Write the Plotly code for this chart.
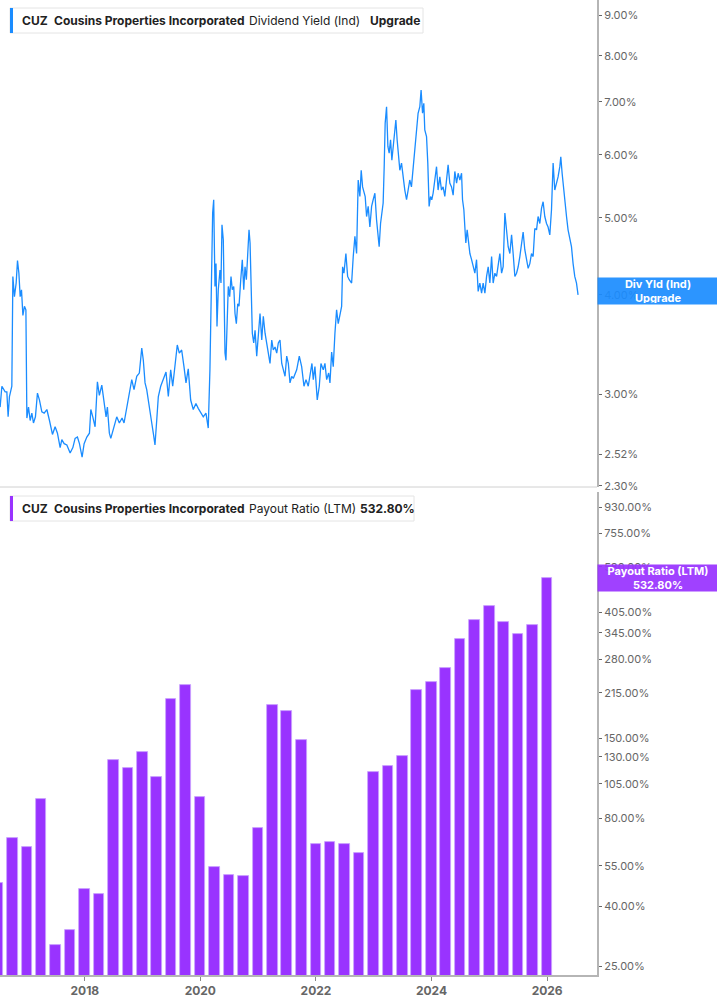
import math
from datetime import datetime
import plotly.graph_objects as go

# ---------------- data ----------------
# Dividend yield (Ind), % — time as decimal years
YIELD_T = [
    2016.535, 2016.565, 2016.622, 2016.651, 2016.673, 2016.696, 2016.737, 2016.755, 2016.782, 2016.812,
    2016.835, 2016.859, 2016.881, 2016.904, 2016.928, 2016.955, 2016.980, 2016.997, 2017.025, 2017.054,
    2017.083, 2017.111, 2017.145, 2017.180, 2017.215, 2017.256, 2017.296, 2017.343, 2017.388, 2017.440,
    2017.486, 2017.526, 2017.573, 2017.602, 2017.642, 2017.689, 2017.746, 2017.793, 2017.832, 2017.872,
    2017.907, 2017.953, 2017.988, 2018.035, 2018.080, 2018.104, 2018.138, 2018.178, 2018.218, 2018.252,
    2018.294, 2018.334, 2018.368, 2018.391, 2018.425, 2018.450, 2018.494, 2018.553, 2018.598, 2018.645,
    2018.679, 2018.726, 2018.771, 2018.813, 2018.852, 2018.899, 2018.944, 2018.986, 2019.013, 2019.043,
    2019.072, 2019.117, 2019.159, 2019.186, 2019.215, 2019.245, 2019.273, 2019.314, 2019.359, 2019.406,
    2019.446, 2019.487, 2019.522, 2019.561, 2019.601, 2019.636, 2019.677, 2019.717, 2019.752, 2019.791,
    2019.833, 2019.878, 2019.924, 2019.964, 2020.006, 2020.051, 2020.097, 2020.137, 2020.166, 2020.196,
    2020.213, 2020.231, 2020.253, 2020.271, 2020.288, 2020.310, 2020.340, 2020.357, 2020.374, 2020.397,
    2020.409, 2020.426, 2020.443, 2020.461, 2020.483, 2020.507, 2020.530, 2020.552, 2020.577, 2020.599,
    2020.622, 2020.646, 2020.668, 2020.698, 2020.725, 2020.750, 2020.772, 2020.795, 2020.819, 2020.841,
    2020.859, 2020.876, 2020.898, 2020.922, 2020.945, 2020.974, 2021.002, 2021.031, 2021.061, 2021.088,
    2021.118, 2021.147, 2021.175, 2021.204, 2021.234, 2021.261, 2021.291, 2021.320, 2021.348, 2021.377,
    2021.407, 2021.434, 2021.464, 2021.493, 2021.521, 2021.550, 2021.580, 2021.607, 2021.666, 2021.711,
    2021.752, 2021.792, 2021.827, 2021.866, 2021.896, 2021.930, 2021.953, 2021.982, 2022.022, 2022.057,
    2022.086, 2022.126, 2022.155, 2022.185, 2022.219, 2022.242, 2022.271, 2022.299, 2022.328, 2022.357,
    2022.385, 2022.415, 2022.444, 2022.461, 2022.484, 2022.518, 2022.548, 2022.575, 2022.617, 2022.645,
    2022.674, 2022.703, 2022.731, 2022.760, 2022.783, 2022.807, 2022.829, 2022.852, 2022.876, 2022.904,
    2022.933, 2022.963, 2022.990, 2023.020, 2023.049, 2023.077, 2023.094, 2023.118, 2023.141, 2023.163,
    2023.181, 2023.198, 2023.222, 2023.245, 2023.267, 2023.291, 2023.314, 2023.336, 2023.365, 2023.383,
    2023.405, 2023.430, 2023.452, 2023.481, 2023.509, 2023.538, 2023.568, 2023.594, 2023.624, 2023.653,
    2023.682, 2023.711, 2023.741, 2023.768, 2023.798, 2023.820, 2023.845, 2023.867, 2023.884, 2023.914,
    2023.936, 2023.959, 2023.983, 2024.005, 2024.028, 2024.052, 2024.087, 2024.114, 2024.144, 2024.173,
    2024.201, 2024.230, 2024.260, 2024.287, 2024.316, 2024.346, 2024.374, 2024.403, 2024.433, 2024.460,
    2024.490, 2024.519, 2024.536, 2024.559, 2024.576, 2024.593, 2024.616, 2024.633, 2024.663, 2024.692,
    2024.720, 2024.749, 2024.778, 2024.806, 2024.835, 2024.865, 2024.892, 2024.922, 2024.951, 2024.979,
    2025.008, 2025.038, 2025.065, 2025.095, 2025.124, 2025.152, 2025.181, 2025.211, 2025.238, 2025.268,
    2025.297, 2025.325, 2025.354, 2025.384, 2025.411, 2025.441, 2025.470, 2025.498, 2025.527, 2025.557,
    2025.584, 2025.613, 2025.643, 2025.671, 2025.700, 2025.729, 2025.757, 2025.786, 2025.816, 2025.843,
    2025.873, 2025.902, 2025.930, 2025.959, 2025.989, 2026.016, 2026.046, 2026.075, 2026.103, 2026.132,
    2026.162, 2026.189, 2026.219, 2026.236, 2026.259, 2026.288, 2026.305, 2026.335, 2026.362, 2026.392,
    2026.421, 2026.449, 2026.478, 2026.508, 2026.535,
]
YIELD_V = [
    2.89, 3.07, 3.02, 3.02, 2.81, 2.98, 3.07, 4.22, 3.98, 4.14,
    4.42, 4.26, 3.98, 4.06, 3.77, 3.87, 3.83, 2.80, 2.89, 2.78,
    2.84, 2.76, 2.81, 3.01, 2.95, 2.85, 2.84, 2.87, 2.78, 2.67,
    2.73, 2.68, 2.57, 2.63, 2.60, 2.59, 2.53, 2.57, 2.64, 2.65,
    2.60, 2.50, 2.60, 2.65, 2.68, 2.87, 2.81, 2.73, 3.11, 2.99,
    3.08, 2.92, 2.81, 2.89, 2.68, 2.64, 2.71, 2.81, 2.76, 2.80,
    2.76, 2.89, 3.04, 3.13, 3.04, 3.16, 3.19, 3.43, 3.31, 3.10,
    3.04, 2.91, 2.76, 2.68, 2.59, 2.78, 2.98, 3.07, 3.13, 3.20,
    2.98, 3.22, 3.07, 3.28, 3.46, 3.38, 3.41, 3.25, 3.10, 3.23,
    2.95, 2.87, 2.92, 2.88, 2.84, 2.81, 2.84, 2.72, 3.22, 4.26,
    5.07, 5.27, 4.10, 4.38, 3.65, 4.06, 4.30, 4.14, 4.90, 4.69,
    3.83, 3.38, 3.31, 3.79, 4.10, 3.98, 4.22, 4.06, 4.10, 3.79,
    3.68, 3.90, 3.87, 4.18, 4.43, 4.06, 4.34, 4.18, 4.47, 4.83,
    4.65, 3.98, 3.58, 3.48, 3.61, 3.35, 3.54, 3.79, 3.51, 3.76,
    3.58, 3.48, 3.41, 3.28, 3.51, 3.41, 3.44, 3.38, 3.48, 3.51,
    3.28, 3.22, 3.16, 3.35, 3.28, 3.10, 3.16, 3.14, 3.22, 3.35,
    3.25, 3.07, 3.13, 3.07, 3.16, 3.28, 3.13, 3.25, 2.95, 3.07,
    3.28, 3.22, 3.28, 3.13, 3.19, 3.10, 3.39, 3.25, 3.58, 3.83,
    3.68, 3.79, 3.87, 4.34, 4.26, 4.51, 4.22, 4.18, 4.14, 4.47,
    4.74, 4.51, 5.58, 5.32, 5.74, 5.47, 5.37, 5.32, 5.02, 5.17,
    4.87, 5.17, 5.27, 5.37, 4.97, 4.74, 4.60, 4.92, 5.07, 5.22,
    5.80, 6.58, 6.90, 6.15, 6.03, 6.27, 5.91, 6.15, 6.45, 6.64,
    6.27, 5.91, 5.74, 5.86, 5.58, 5.42, 5.27, 5.42, 5.58, 5.47,
    5.80, 6.15, 6.39, 6.77, 6.90, 7.24, 6.77, 6.97, 6.45, 6.33,
    5.86, 5.17, 5.32, 5.27, 5.37, 5.53, 5.80, 5.42, 5.63, 5.42,
    5.47, 5.32, 5.58, 5.83, 5.53, 5.47, 5.34, 5.72, 5.53, 5.69,
    5.58, 5.69, 5.27, 5.12, 4.87, 4.65, 4.83, 4.69, 4.51, 4.43,
    4.34, 4.26, 4.43, 4.04, 4.14, 4.02, 4.14, 4.02, 4.22, 4.34,
    4.14, 4.47, 4.14, 4.26, 4.22, 4.34, 4.51, 4.26, 4.34, 5.07,
    4.83, 4.60, 4.51, 4.76, 4.51, 4.22, 4.26, 4.34, 4.47, 4.65,
    4.80, 4.56, 4.43, 4.32, 4.38, 4.51, 4.47, 4.85, 4.83, 5.02,
    4.92, 5.14, 5.24, 5.02, 4.92, 4.87, 4.76, 5.12, 5.86, 5.42,
    5.53, 5.63, 5.80, 5.97, 5.69, 5.42, 5.17, 5.02, 4.83, 4.71,
    4.60, 4.38, 4.22, 4.14, 4.00,
]

# Payout ratio (LTM), % — quarterly
QUARTERS = [
    "2016-06-30", "2016-09-30", "2016-12-31", "2017-03-31", "2017-06-30", "2017-09-30", "2017-12-31",
    "2018-03-31", "2018-06-30", "2018-09-30", "2018-12-31", "2019-03-31", "2019-06-30", "2019-09-30",
    "2019-12-31", "2020-03-31", "2020-06-30", "2020-09-30", "2020-12-31", "2021-03-31", "2021-06-30",
    "2021-09-30", "2021-12-31", "2022-03-31", "2022-06-30", "2022-09-30", "2022-12-31", "2023-03-31",
    "2023-06-30", "2023-09-30", "2023-12-31", "2024-03-31", "2024-06-30", "2024-09-30", "2024-12-31",
    "2025-03-31", "2025-06-30", "2025-09-30", "2025-12-31",
]
PAYOUT = [
    48.2, 68.4, 63.9, 93.4, 29.5, 33.2, 45.8,
    44.1, 127.0, 118.7, 135.0, 110.9, 205.0, 228.8,
    94.7, 54.4, 51.2, 50.7, 74.2, 195.0, 186.5,
    148.0, 65.4, 66.3, 65.4, 61.1, 115.3, 120.6,
    130.5, 220.0, 233.8, 262.0, 328.8, 381.0, 425.5,
    375.0, 342.0, 366.4, 532.8,
]

TOP_TICKS = [2.30, 2.52, 3.00, 4.00, 5.00, 6.00, 7.00, 8.00, 9.00]
BOTTOM_TICKS = [25, 40, 55, 80, 105, 130, 150, 215, 280, 345, 405, 580, 755, 930]
X_TICKS = ["2018-01-01", "2020-01-01", "2022-01-01", "2024-01-01", "2026-01-01"]
X_LABELS = ["2018", "2020", "2022", "2024", "2026"]


def dec_to_date(d):
    y = int(d)
    start = datetime(y, 1, 1)
    end = datetime(y + 1, 1, 1)
    return start + (end - start) * (d - y)


yield_dates = [dec_to_date(t) for t in YIELD_T]

# ---------------- layout constants ----------------
W, H = 717, 1005
ML, MR, MT, MB = 0, 120, 0, 30
PW, PH = W - ML - MR, H - MT - MB
BLUE = "#1a8cff"
PURPLE = "#9933ff"
FONT = "Inter"


def px(x):
    return x / PW


def py(y):
    return (PH - y) / PH


fig = go.Figure()

fig.add_trace(go.Scatter(
    x=yield_dates, y=YIELD_V, mode="lines",
    line=dict(color=BLUE, width=1.3),
    xaxis="x", yaxis="y", hoverinfo="skip", showlegend=False,
))

fig.add_trace(go.Bar(
    x=QUARTERS, y=PAYOUT,
    width=67 * 86400000,
    marker=dict(color=PURPLE, line=dict(color="#c9a3ff", width=0.8)),
    xaxis="x", yaxis="y2", hoverinfo="skip", showlegend=False,
))

top_dom = [py(487), 1]
bot_dom = [0, py(492)]

fig.update_layout(
    width=W, height=H,
    margin=dict(l=ML, r=MR, t=MT, b=MB),
    paper_bgcolor="white", plot_bgcolor="white",
    font=dict(family=FONT, color="#666"),
    showlegend=False,
    xaxis=dict(
        type="date", domain=[0, 1], anchor="y2",
        range=["2016-07-14", "2026-11-12"],
        tickvals=X_TICKS, ticktext=X_LABELS,
        ticks="outside", ticklen=4, tickcolor="#888", tickwidth=1,
        showline=True, linecolor="#b5b5b5", linewidth=2,
        showgrid=False, zeroline=False,
        tickfont=dict(size=12, color="#666", family=FONT, weight="bold"),
    ),
    yaxis=dict(
        type="log", domain=top_dom, anchor="x", side="right",
        range=[math.log10(2.293), math.log10(9.40)],
        tickvals=TOP_TICKS, ticktext=[f"{v:.2f}%" for v in TOP_TICKS],
        ticks="outside", ticklen=3, tickcolor="#666",
        showline=True, linecolor="#b5b5b5", linewidth=2,
        showgrid=False, zeroline=False,
        tickfont=dict(size=11, color="#666", family=FONT),
    ),
    yaxis2=dict(
        type="log", domain=bot_dom, anchor="x", side="right",
        range=[math.log10(23.29), math.log10(1047)],
        tickvals=BOTTOM_TICKS, ticktext=[f"{v:.2f}%" for v in BOTTOM_TICKS],
        ticks="outside", ticklen=3, tickcolor="#666",
        showline=True, linecolor="#b5b5b5", linewidth=2,
        showgrid=False, zeroline=False,
        tickfont=dict(size=11, color="#666", family=FONT),
    ),
    bargap=0,
)

# separator under top pane
fig.add_shape(type="line", xref="paper", yref="paper", x0=0, x1=1,
              y0=py(487), y1=py(487), line=dict(color="#d0d0d0", width=1))


def legend_box(y0, y1, x1, color):
    fig.add_shape(type="rect", xref="paper", yref="paper",
                  x0=px(10), x1=px(x1), y0=py(y1), y1=py(y0),
                  line=dict(color="#e4e4e4", width=1), fillcolor="white", layer="above")
    fig.add_shape(type="rect", xref="paper", yref="paper",
                  x0=px(10), x1=px(13), y0=py(y1), y1=py(y0),
                  line=dict(width=0), fillcolor=color, layer="above")


def label(x, y, text):
    fig.add_annotation(xref="paper", yref="paper", x=px(x), y=py(y), text=text,
                       xanchor="left", yanchor="middle", showarrow=False,
                       font=dict(family=FONT, size=12, color="#222"))


legend_box(8, 33, 423, BLUE)
label(20, 20.5, "<b>CUZ</b>")
label(52, 20.5, "<b>Cousins Properties Incorporated</b>")
label(247, 20.5, "Dividend Yield (Ind)")
label(368, 20.5, "<b>Upgrade</b>")

legend_box(496, 521, 414, PURPLE)
label(20, 508.5, "<b>CUZ</b>")
label(52, 508.5, "<b>Cousins Properties Incorporated</b>")
label(247, 508.5, "Payout Ratio (LTM)")
label(358, 508.5, "<b>532.80%</b>")

# right-side value tags
fig.add_annotation(xref="paper", yref="y", x=1, y=math.log10(YIELD_V[-1]), yshift=4,
                   xanchor="left", yanchor="middle", showarrow=False,
                   text="<b>Div Yld (Ind)<br>Upgrade</b>", align="center",
                   width=118, height=24, borderpad=1,
                   bgcolor="rgba(26,140,255,0.92)",
                   font=dict(family=FONT, size=11, color="white"))
fig.add_annotation(xref="paper", yref="y2", x=1, y=math.log10(PAYOUT[-1]),
                   xanchor="left", yanchor="middle", showarrow=False,
                   text="<b>Payout Ratio (LTM)<br>532.80%</b>", align="center",
                   width=118, height=24, borderpad=1,
                   bgcolor="rgba(153,51,255,0.93)",
                   font=dict(family=FONT, size=11, color="white"))

fig.write_html("out.html")
